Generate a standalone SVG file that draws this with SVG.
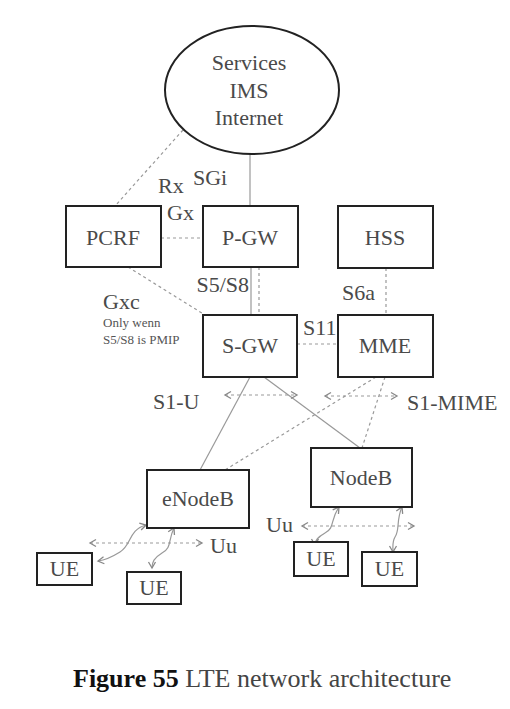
<svg xmlns="http://www.w3.org/2000/svg" width="510" height="709" viewBox="0 0 510 709">
<style>
.box{fill:#fff;stroke:#222;stroke-width:2}
.t{font-family:"Liberation Serif","Times New Roman",serif;font-size:22px;fill:#4a4a4a;text-anchor:middle}
.l{font-family:"Liberation Serif","Times New Roman",serif;font-size:22px;fill:#4a4a4a}
.s{font-family:"Liberation Serif","Times New Roman",serif;font-size:13px;fill:#555}
.solid{stroke:#999;stroke-width:1.2;fill:none}
.dash{stroke:#999;stroke-width:1.2;fill:none;stroke-dasharray:3,3}
.arr{stroke:#999;stroke-width:1.2;fill:none;stroke-dasharray:3,3;marker-start:url(#ah);marker-end:url(#ah)}
.curve{stroke:#999;stroke-width:1.2;fill:none;marker-start:url(#ah);marker-end:url(#ah)}
</style>
<defs>
<marker id="ah" viewBox="-8 -5 10 10" refX="0" refY="0" markerWidth="10" markerHeight="10" markerUnits="userSpaceOnUse" orient="auto-start-reverse">
<path d="M-6,-3.5 L0,0 L-6,3.5" fill="none" stroke="#888" stroke-width="1.3"/>
</marker>
</defs>
<rect width="510" height="709" fill="#fff"/>
<g id="connectors">
<line class="dash" x1="183" y1="130" x2="115" y2="206"/>
<line class="solid" x1="250" y1="154" x2="250" y2="206"/>
<line class="dash" x1="161" y1="238" x2="203" y2="238"/>
<line class="solid" x1="251" y1="267" x2="251" y2="315"/>
<line class="dash" x1="259" y1="267" x2="259" y2="315"/>
<line class="dash" x1="128" y1="267" x2="205" y2="315"/>
<line class="dash" x1="386" y1="268" x2="386" y2="315"/>
<line class="dash" x1="297" y1="344" x2="338" y2="344"/>
<line class="solid" x1="250" y1="377" x2="200" y2="470"/>
<line class="solid" x1="264" y1="377" x2="360" y2="448"/>
<line class="dash" x1="376" y1="377" x2="225" y2="470"/>
<line class="dash" x1="385" y1="377" x2="362" y2="448"/>
<line class="arr" x1="225" y1="395" x2="297" y2="395"/>
<line class="arr" x1="325" y1="396" x2="397" y2="396"/>
<line class="arr" x1="90" y1="543" x2="202" y2="543"/>
<line class="arr" x1="302" y1="526" x2="414" y2="526"/>
<path class="curve" d="M146,525 C128,530 132,545 120,552 C112,557 106,560 98,561"/>
<path class="curve" d="M174,528 C168,540 172,548 162,553 C154,558 152,562 152,568"/>
<path class="curve" d="M339,507 C330,520 335,528 325,533 C318,537 315,540 315,545"/>
<path class="curve" d="M402,507 C396,520 400,530 395,537 C392,542 393,547 393,552"/>
<text class="l" x="158" y="193">Rx</text>
<text class="l" x="193" y="185">SGi</text>
<text class="l" x="167" y="220">Gx</text>
<text class="l" x="249" y="292" text-anchor="end">S5/S8</text>
<text class="l" x="103" y="309">Gxc</text>
<text class="s" x="103" y="327">Only wenn</text>
<text class="s" x="103" y="344">S5/S8 is PMIP</text>
<text class="l" x="342" y="300">S6a</text>
<text class="l" x="303" y="335">S11</text>
<text class="l" x="153" y="409">S1-U</text>
<text class="l" x="407" y="410">S1-MIME</text>
<text class="l" x="210" y="553">Uu</text>
<text class="l" x="266" y="532">Uu</text>
</g>
<g id="services">
<ellipse cx="252" cy="90" rx="87" ry="64" fill="#fff" stroke="#222" stroke-width="2"/>
<text class="t" x="249" y="70">Services</text>
<text class="t" x="249" y="98">IMS</text>
<text class="t" x="249" y="125">Internet</text>
</g>
<g id="pcrf"><rect class="box" x="66" y="206" width="95" height="61"/><text class="t" x="113" y="245">PCRF</text></g>
<g id="pgw"><rect class="box" x="203" y="206" width="95" height="61"/><text class="t" x="250" y="245">P-GW</text></g>
<g id="hss"><rect class="box" x="338" y="206" width="95" height="62"/><text class="t" x="385" y="245">HSS</text></g>
<g id="sgw"><rect class="box" x="203" y="315" width="94" height="62"/><text class="t" x="250" y="353">S-GW</text></g>
<g id="mme"><rect class="box" x="338" y="315" width="95" height="62"/><text class="t" x="385" y="353">MME</text></g>
<g id="enodeb"><rect class="box" x="147" y="470" width="102" height="58"/><text class="t" x="198" y="506">eNodeB</text></g>
<g id="nodeb"><rect class="box" x="311" y="448" width="101" height="59"/><text class="t" x="361" y="485">NodeB</text></g>
<g id="ue1"><rect class="box" x="37" y="553" width="55" height="32"/><text class="t" x="64.5" y="576">UE</text></g>
<g id="ue2"><rect class="box" x="127" y="572" width="54" height="32"/><text class="t" x="154" y="595">UE</text></g>
<g id="ue3"><rect class="box" x="294" y="542" width="54" height="34"/><text class="t" x="321" y="566">UE</text></g>
<g id="ue4"><rect class="box" x="362" y="552" width="55" height="34"/><text class="t" x="389.5" y="576">UE</text></g>
<text x="73" y="687" font-family="Liberation Serif, Times New Roman, serif" font-size="26" fill="#444"><tspan font-weight="bold" fill="#111">Figure 55</tspan> LTE network architecture</text>
</svg>
